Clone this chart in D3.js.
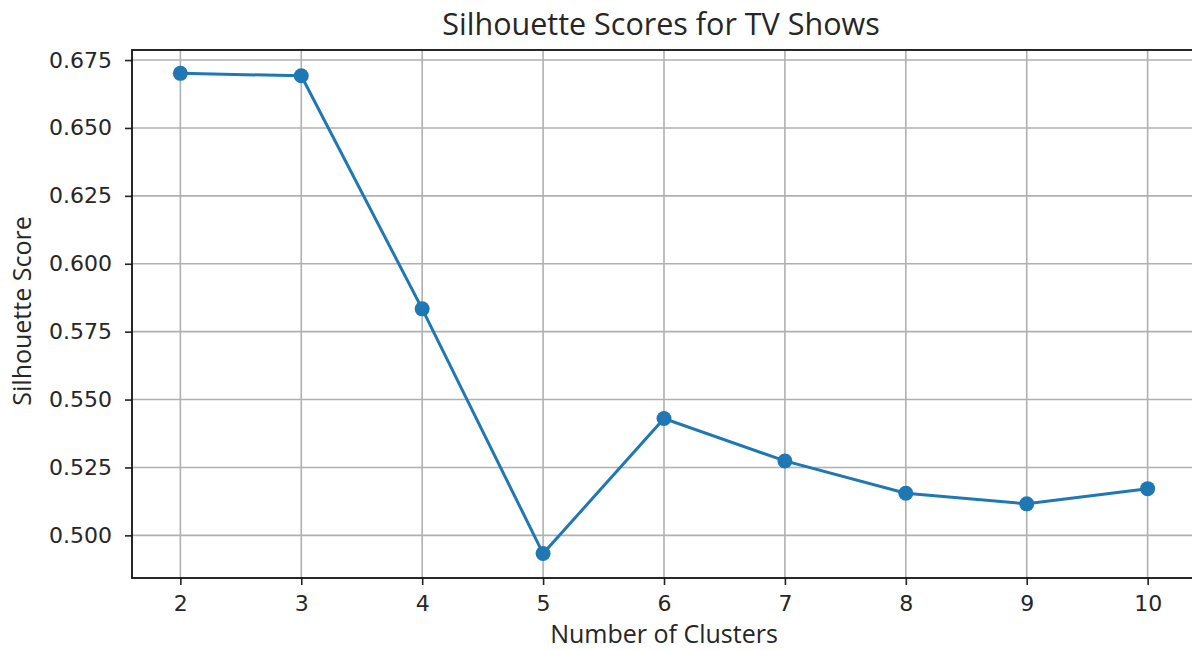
<!DOCTYPE html>
<html>
<head>
<meta charset="utf-8">
<script src="https://cdn.jsdelivr.net/npm/d3@7"></script>
<style>
  html, body { margin: 0; padding: 0; background: #fff; }
  svg { display: block; }
</style>
</head>
<body>
<svg id="chart" width="1192" height="650"></svg>
<script>
const clusters = [2, 3, 4, 5, 6, 7, 8, 9, 10];
const scores = [0.6701, 0.6692, 0.5834, 0.4933, 0.5430, 0.5274, 0.5155, 0.5116, 0.5172];
const yTicks = [0.500, 0.525, 0.550, 0.575, 0.600, 0.625, 0.650, 0.675];
const xTicks = [2, 3, 4, 5, 6, 7, 8, 9, 10];
const titleText = "Silhouette Scores for TV Shows";
const xLabel = "Number of Clusters";
const yLabel = "Silhouette Score";

(function () {
const svg = d3.select("#chart");
const pLeft = 132, pRight = 1196, pTop = 50, pBottom = 578;

const x = d3.scaleLinear().domain([1.6, 10.4]).range([pLeft, pRight]);
const y = d3.scaleLinear().domain([0.4843, 0.6787]).range([pBottom, pTop]);

const tickFont = "'DejaVu Sans', sans-serif";
const labelFont = "'Open Sans', 'Noto Sans', sans-serif";

// grid
svg.append("g").selectAll("line").data(xTicks).join("line")
  .attr("x1", d => x(d)).attr("x2", d => x(d)).attr("y1", pTop).attr("y2", pBottom)
  .attr("stroke", "#b0b0b0").attr("stroke-width", 1.6);
svg.append("g").selectAll("line").data(yTicks).join("line")
  .attr("x1", pLeft).attr("x2", pRight).attr("y1", d => y(d)).attr("y2", d => y(d))
  .attr("stroke", "#b0b0b0").attr("stroke-width", 1.6);

// axes
const xAxis = svg.append("g").attr("transform", `translate(0,${pBottom})`)
  .call(d3.axisBottom(x).tickValues(xTicks).tickFormat(d3.format("d")).tickSize(7).tickPadding(6).tickSizeOuter(0));
const yAxis = svg.append("g").attr("transform", `translate(${pLeft},0)`)
  .call(d3.axisLeft(y).tickValues(yTicks).tickFormat(d3.format(".3f")).tickSize(7).tickPadding(13).tickSizeOuter(0));
[xAxis, yAxis].forEach(a => {
  a.select(".domain").remove();
  a.selectAll(".tick line").attr("stroke", "#222").attr("stroke-width", 1.6);
  a.selectAll(".tick text").attr("font-family", tickFont).attr("font-size", 22).attr("fill", "#262626");
});
xAxis.selectAll(".tick text").attr("dy", "0.92em");

// spines
svg.append("rect").attr("x", pLeft).attr("y", pTop).attr("width", pRight - pLeft).attr("height", pBottom - pTop)
  .attr("fill", "none").attr("stroke", "#111").attr("stroke-width", 1.8);

// line
const pts = clusters.map((c, i) => [c, scores[i]]);
svg.append("path").datum(pts)
  .attr("d", d3.line().x(d => x(d[0])).y(d => y(d[1])))
  .attr("fill", "none").attr("stroke", "#1f77b4").attr("stroke-width", 3);
svg.append("g").selectAll("circle").data(pts).join("circle")
  .attr("cx", d => x(d[0])).attr("cy", d => y(d[1])).attr("r", 7.5)
  .attr("fill", "#1f77b4");

// texts
svg.append("text").attr("x", 661).attr("y", 35).attr("text-anchor", "middle")
  .attr("font-family", labelFont).attr("font-size", 30.5).attr("fill", "#262626").text(titleText);
svg.append("text").attr("x", 664).attr("y", 643).attr("text-anchor", "middle")
  .attr("font-family", labelFont).attr("font-size", 25).attr("fill", "#262626").text(xLabel);
svg.append("text").attr("transform", "translate(31,311) rotate(-90)").attr("text-anchor", "middle")
  .attr("font-family", labelFont).attr("font-size", 25).attr("fill", "#262626").text(yLabel);
})();
</script>
</body>
</html>
